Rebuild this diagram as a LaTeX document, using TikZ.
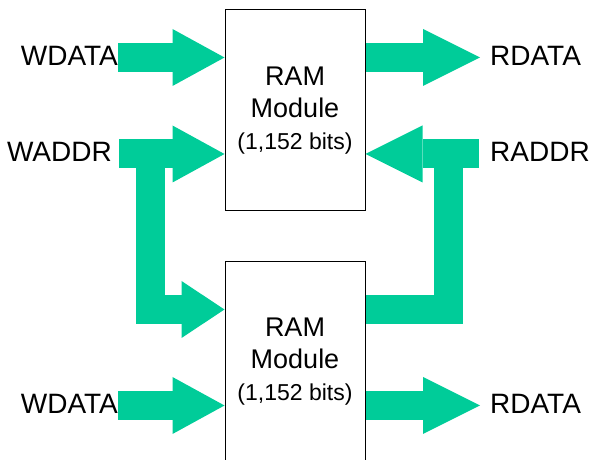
\documentclass[tikz,border=0pt]{standalone}
\usepackage{fontspec}
\setmainfont{Liberation Sans}
\usetikzlibrary{positioning}
\usetikzlibrary{arrows.meta}
\definecolor{busgreen}{RGB}{0,204,153}

\begin{document}
\begin{tikzpicture}
    [%
        x=1pt,y=1pt,%
        ram module/.style={%
            draw,%
            line width=1pt,%
            minimum width=140pt,%
            align=center,%
            font=\fontsize{27}{32}\selectfont%
        },%
        port/.style={%
            inner sep=0pt,%
            text depth=4pt,%
            font=\fontsize{28}{32}\selectfont%
        },%
        bus/.style={%
            draw=busgreen,%
            line width=29pt,%
            -{Triangle[width=57pt,length=#1,line width=0pt]}%
        },%
        bus/.default=52pt%
    ]%
    \useasboundingbox (0,0) rectangle (592,460);
%
    \node[ram module, minimum height=201pt] (ramA) at (295,349.5)
        {RAM\\Module\\{\fontsize{23}{32}\selectfont(1,152 bits)}};
    \node[ram module, minimum height=200pt, below=50pt of ramA] (ramB)
        {RAM\\Module\\{\fontsize{23}{32}\selectfont(1,152 bits)}};
%
    \node[port, anchor=east] (wdataA) at (118,402.5) {WDATA};
    \node[port, anchor=east] (waddr) at (112,306) {WADDR};
    \node[port, anchor=east] (wdataB) at (118,54.5) {WDATA};
    \node[port, anchor=west] (rdataA) at (490,402.5) {RDATA};
    \node[port, anchor=west] (raddr) at (490,306) {RADDR};
    \node[port, anchor=west] (rdataB) at (490,54.5) {RDATA};
%
    % write side
    \draw[bus] (wdataA.east) -- (ramA.west |- wdataA.east);
    \draw[bus, shorten <=7pt] (waddr.east) -- (ramA.west |- waddr.east);
    \coordinate (wsplit) at (150.5,306);
    \draw[bus=43pt] (wsplit) |- ([yshift=52.5pt]ramB.west);
    \draw[bus] (wdataB.east) -- (ramB.west |- wdataB.east);
%
    % read side
    \draw[bus=57pt, shorten >=10pt] (ramA.east |- rdataA.west) -- (rdataA.west);
    \draw[bus=57pt, shorten <=11pt] (raddr.west) -- (ramA.east |- raddr.west);
    \coordinate (rsplit) at (448.5,306);
    \draw[bus, -] ([yshift=52pt]ramB.east) -| (rsplit);
    \draw[bus=57pt, shorten >=10pt] (ramB.east |- rdataB.west) -- (rdataB.west);
\end{tikzpicture}
\end{document}
